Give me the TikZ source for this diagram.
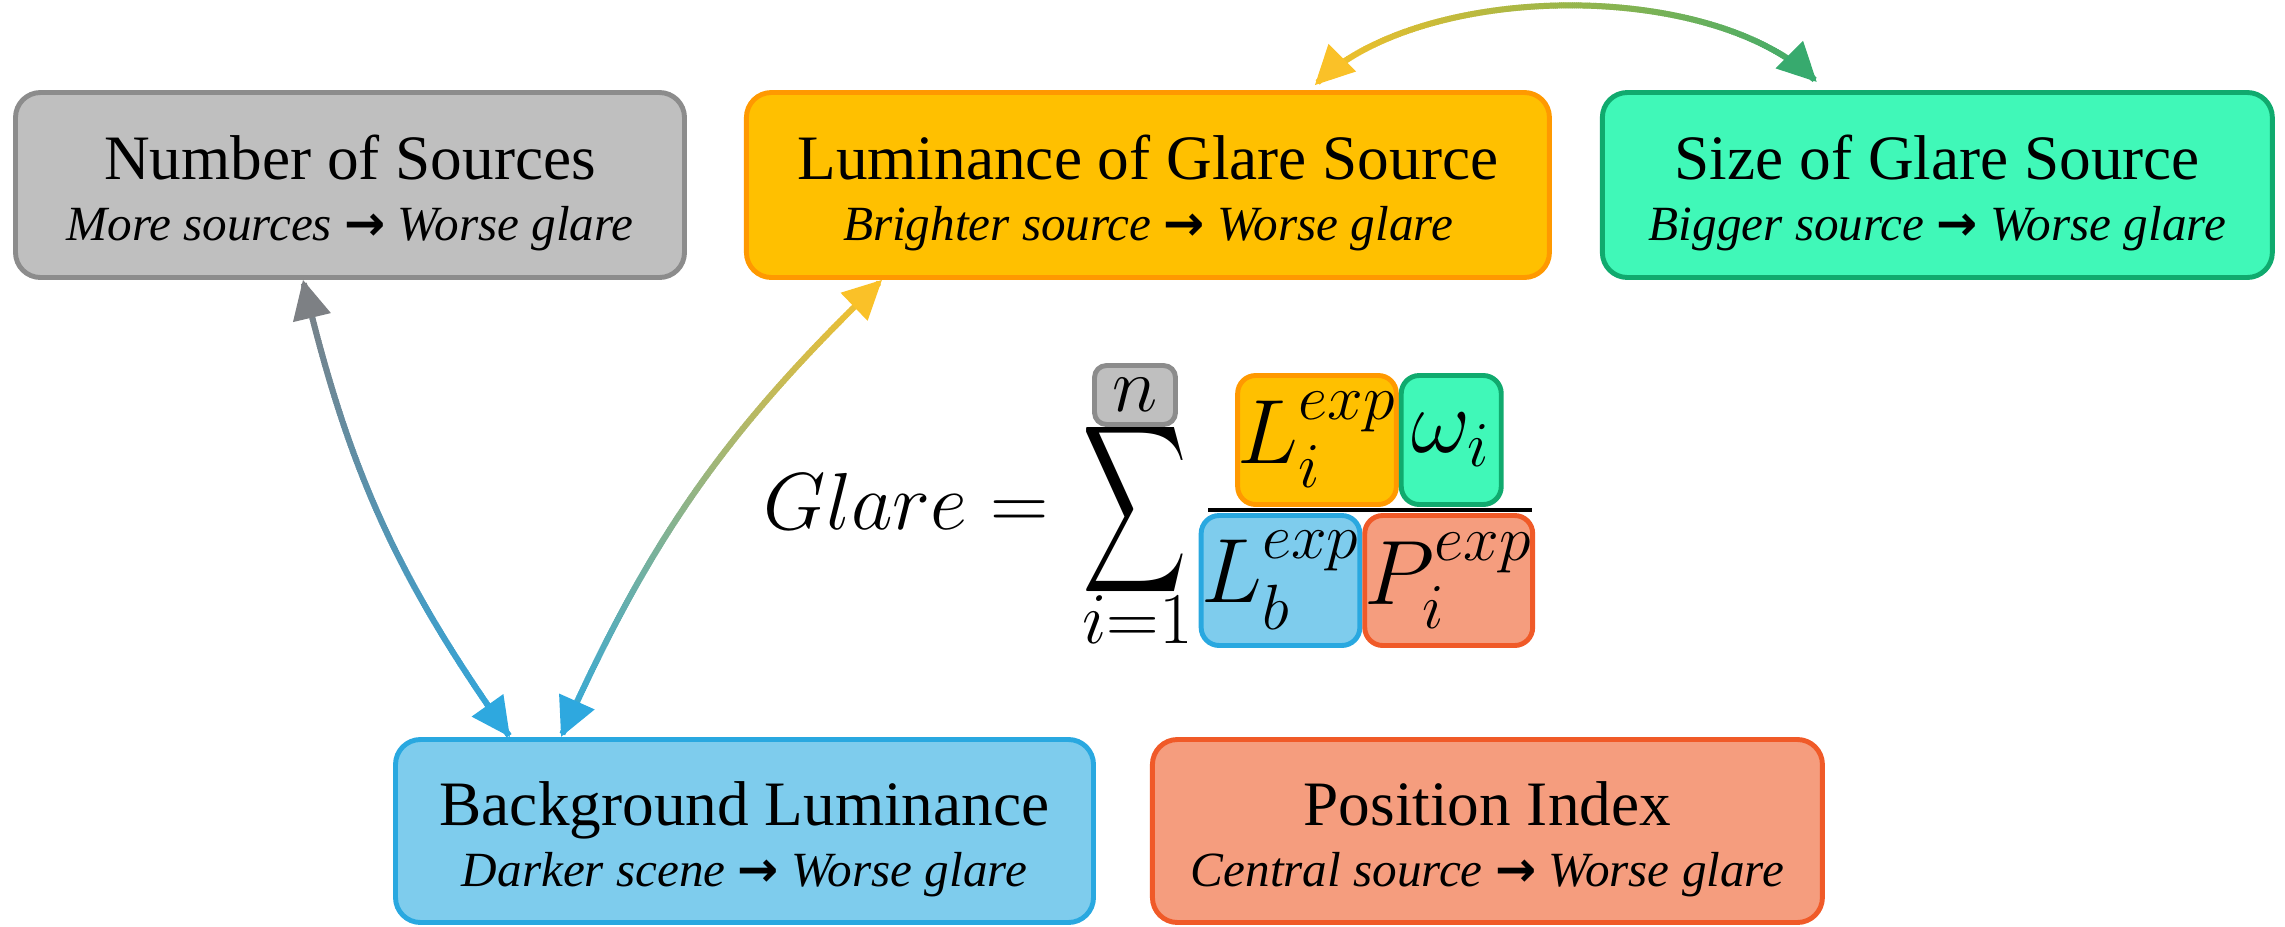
\RequirePackage{fix-cm}
\documentclass[tikz,border=0pt]{standalone}
\usepackage{amsmath}
\usepackage[no-math]{fontspec}
\setmainfont{Liberation Serif}
\newfontfamily\arrowfont{DejaVu Sans}
\usetikzlibrary{arrows.meta, positioning, decorations.markings}
\definecolor{srcfill}{RGB}{191,191,191}
\definecolor{srcdraw}{RGB}{140,140,140}
\definecolor{lumfill}{RGB}{255,192,0}
\definecolor{lumdraw}{RGB}{255,153,0}
\definecolor{sizefill}{RGB}{64,248,184}
\definecolor{sizedraw}{RGB}{16,170,110}
\definecolor{bgfill}{RGB}{126,204,237}
\definecolor{bgdraw}{RGB}{41,168,224}
\definecolor{posfill}{RGB}{245,157,126}
\definecolor{posdraw}{RGB}{240,90,40}
\definecolor{srcarrow}{RGB}{125,128,132}
\definecolor{bgarrow}{RGB}{46,168,223}
\definecolor{lumarrow}{RGB}{250,193,40}
\definecolor{sizearrow}{RGB}{55,170,110}
\newcommand{\rarr}{{\arrowfont\upshape\bfseries →}}
\newcommand{\effect}{\fontsize{14}{17}\selectfont\itshape}
\newcommand{\tstrut}{\rule{0pt}{17pt}}
\tikzset{
  gradarrow/.style 2 args={
    postaction={decorate, decoration={markings,
      mark=between positions 0.01 and 0.99 step 0.6pt with {
        \pgfmathtruncatemacro\mixpct{100*\pgfkeysvalueof{/pgf/decoration/mark info/distance from start}/\pgfdecoratedpathlength}
        \draw[line width=1.7pt, #2!\mixpct!#1] (-0.45pt,0) -- (0.45pt,0);}}},
    postaction={decorate, decoration={markings,
      mark=at position 0 with {\arrowreversed[#1]{Triangle[length=11pt,width=11pt]}},
      mark=at position 0.9995 with {\arrow[#2]{Triangle[length=11pt,width=11pt]}}}}}
}

\begin{document}
\begin{tikzpicture}[every node/.style={font=\fontsize{18}{17.3}\selectfont},
  factor/.style={draw, rounded corners=0.25cm, line width=1.4pt, minimum height=1.85cm, align=center, inner sep=2pt},
  term/.style={draw, rounded corners=0.18cm, line width=1.4pt, inner sep=0pt, minimum height=1.29cm, font=\fontsize{26}{30}\selectfont}]
\useasboundingbox (0,0) rectangle (22.85,-9.26);

\node[factor, fill=srcfill, draw=srcdraw, minimum width=6.69cm] (nsrc) at (3.50,-1.85) {\tstrut Number of Sources\\{\effect More sources \rarr\ Worse glare}};
\node[factor, fill=lumfill, draw=lumdraw, minimum width=8.03cm, right=0.57cm of nsrc] (lum) {\tstrut Luminance of Glare Source\\{\effect Brighter source \rarr\ Worse glare}};
\node[factor, fill=sizefill, draw=sizedraw, minimum width=6.70cm, right=0.48cm of lum] (size) {\tstrut Size of Glare Source\\{\effect Bigger source \rarr\ Worse glare}};
\node[factor, fill=bgfill, draw=bgdraw, minimum width=6.98cm, minimum height=1.83cm] (bglum) at (7.445,-8.31) {\tstrut Background Luminance\\{\effect Darker scene \rarr\ Worse glare}};
\node[factor, fill=posfill, draw=posdraw, minimum width=6.70cm, minimum height=1.83cm, right=0.54cm of bglum] (posidx) {\tstrut Position Index\\{\effect Central source \rarr\ Worse glare}};

% formula
\node[anchor=base east, inner sep=0pt, font=\fontsize{23}{27}\selectfont] (glare) at (10.49,-5.29) {$Glare=$};
\node[inner sep=0pt] (sumsym) at (11.345,-5.10) {\fontsize{24.88}{30}\selectfont\scalebox{0.83}[1.34]{$\displaystyle\sum$}};
\node[term, fill=srcfill, draw=srcdraw, rounded corners=0.12cm, minimum width=0.81cm, minimum height=0.59cm, font=\fontsize{22}{26}\selectfont] (nlim) at (11.35,-3.95) {$n$};
\node[anchor=base, inner sep=0pt, font=\fontsize{20.74}{24}\selectfont] (ilim) at (11.375,-6.43) {$i{=}1$};
\node[term, fill=lumfill, draw=lumdraw, minimum width=1.57cm] (liexp) at (13.17,-4.40) {$L_i^{exp}$};
\node[term, fill=sizefill, draw=sizedraw, minimum width=1.00cm, right=0pt of liexp] (omega) {$\omega_i$};
\node[term, fill=bgfill, draw=bgdraw, minimum width=1.58cm, minimum height=1.30cm] (lbexp) at (12.805,-5.805) {$L_b^{exp}$};
\node[term, fill=posfill, draw=posdraw, minimum width=1.59cm, minimum height=1.30cm, right=0pt of lbexp] (piexp) {$P_i^{exp}$};
\draw[line width=1.1pt] (12.08,-5.10) -- (15.32,-5.10);

% gradient arrows
\path[gradarrow={srcarrow}{bgarrow}] ([xshift=-0.47cm]nsrc.south) to[bend right=11] ([xshift=-2.345cm]bglum.north);
\path[gradarrow={lumarrow}{bgarrow}] ([xshift=-2.66cm]lum.south) to[bend right=11] ([xshift=-1.835cm]bglum.north);
\path[gradarrow={lumarrow}{sizearrow}] ([xshift=1.67cm,yshift=0.05cm]lum.north) to[out=45, in=135, looseness=0.75] ([xshift=-1.205cm,yshift=0.08cm]size.north);
\end{tikzpicture}
\end{document}
